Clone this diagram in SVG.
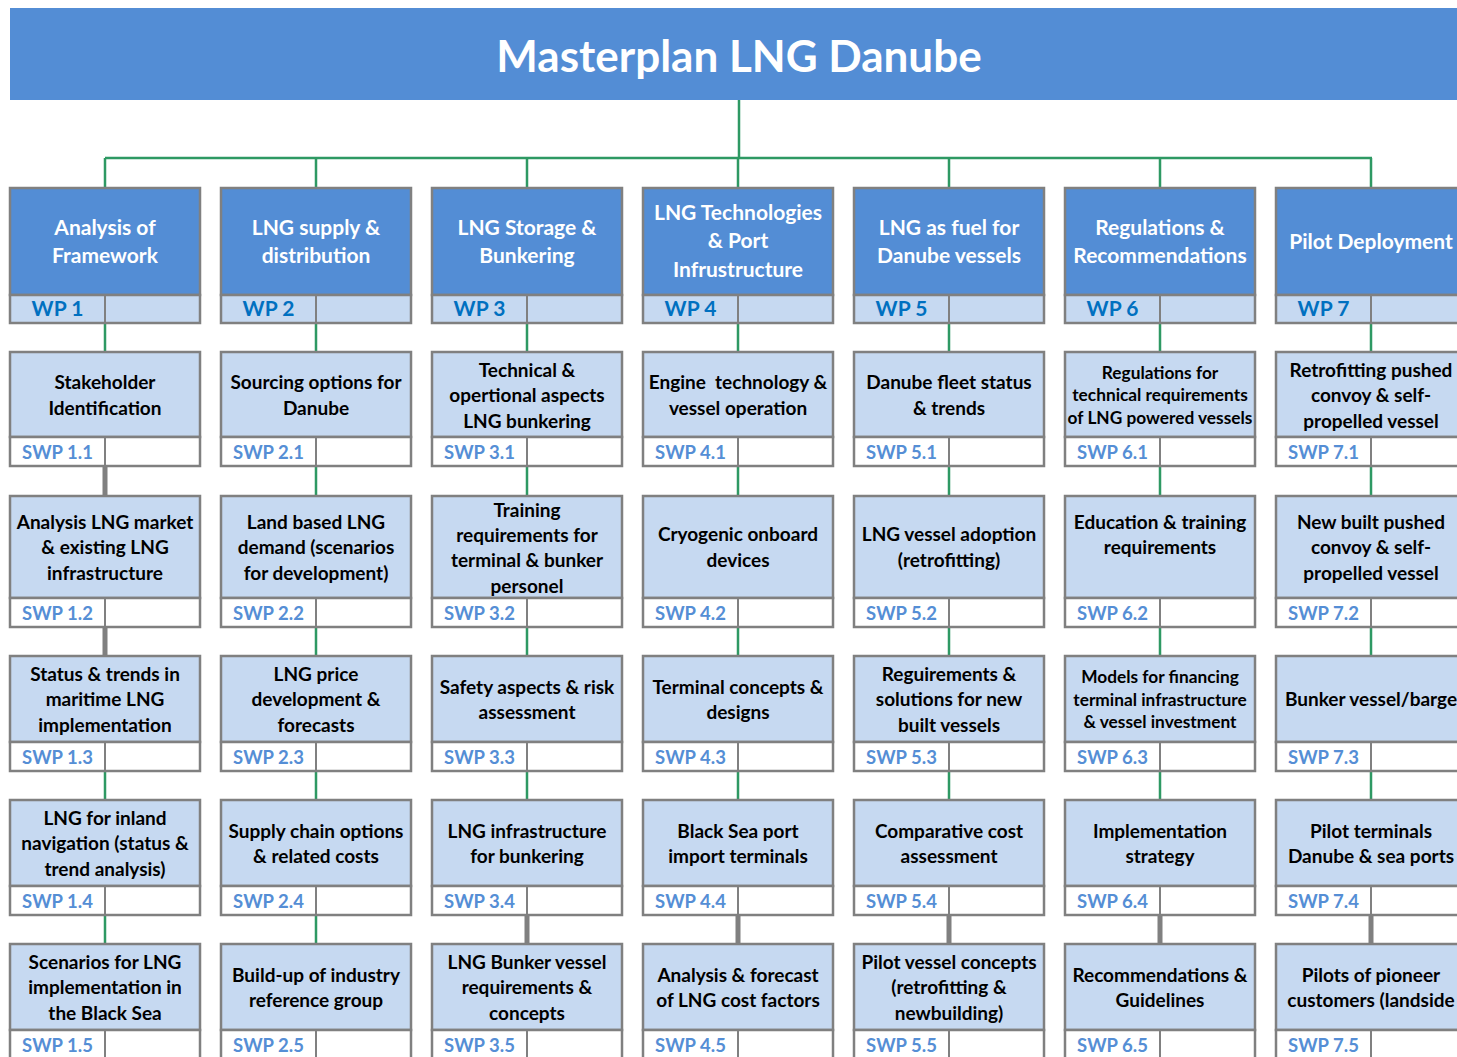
<svg xmlns="http://www.w3.org/2000/svg" width="1457" height="1057" viewBox="0 0 1457 1057">
<style>
text{font-family:Lato,"Open Sans","Liberation Sans",sans-serif;font-weight:bold;text-anchor:middle}
.title{font-size:44px;fill:#fff}
.wpTop{fill:#538DD5;stroke:#808080;stroke-width:2.5}
.wpBot{fill:#C6D9F1;stroke:#808080;stroke-width:2.5}
.sTop{fill:#C6D9F1;stroke:#808080;stroke-width:2.5}
.sBot{fill:#fff;stroke:#808080;stroke-width:2.5}
.div{stroke:#808080;stroke-width:2}
.wpt{font-size:21px;fill:#fff}
.wpl{font-size:21px;fill:#0070C0}
.st{font-size:19px;fill:#000}
.sm{font-size:17.3px;fill:#000}
.sl{font-size:18.5px;fill:#558ED5}
.g{stroke:#2E9963;stroke-width:2.5;fill:none}
.k{stroke:#808080;stroke-width:5;fill:none}
</style>
<rect id="titlebar" x="10" y="8" width="1460" height="92" fill="#538DD5"/>
<text class="title" x="739" y="72">Masterplan LNG Danube</text>

<g id="connectors">
<path class="g" d="M739 100V158M105 158H1372M105 158V188M316 158V188M527 158V188M738 158V188M949 158V188M1160 158V188M1371 158V188"/>
<path class="g" d="M105 323V352M316 323V352M527 323V352M738 323V352M949 323V352M1160 323V352M1371 323V352"/>
<path class="k" d="M105 466V496M105 627V656"/>
<path class="g" d="M316 466V496M527 466V496M738 466V496M949 466V496M1160 466V496M1371 466V496"/>
<path class="g" d="M316 627V656M527 627V656M738 627V656M949 627V656M1160 627V656M1371 627V656"/>
<path class="g" d="M105 771V800M316 771V800M527 771V800M738 771V800M949 771V800M1160 771V800M1371 771V800"/>
<path class="g" d="M105 915V944M316 915V944"/>
<path class="k" d="M527 915V944M738 915V944M949 915V944M1160 915V944M1371 915V944"/>
</g>

<!-- WP nodes -->
<g id="wp1"><rect class="wpTop" x="10" y="188" width="190" height="107"/><rect class="wpBot" x="10" y="295" width="190" height="28"/><line class="div" x1="105" y1="295" x2="105" y2="323"/>
<text class="wpt" x="105" y="235">Analysis of</text><text class="wpt" x="105" y="263">Framework</text><text class="wpl" x="57.5" y="316">WP 1</text></g>
<g id="wp2"><rect class="wpTop" x="221" y="188" width="190" height="107"/><rect class="wpBot" x="221" y="295" width="190" height="28"/><line class="div" x1="316" y1="295" x2="316" y2="323"/>
<text class="wpt" x="316" y="235">LNG supply &amp;</text><text class="wpt" x="316" y="263">distribution</text><text class="wpl" x="268.5" y="316">WP 2</text></g>
<g id="wp3"><rect class="wpTop" x="432" y="188" width="190" height="107"/><rect class="wpBot" x="432" y="295" width="190" height="28"/><line class="div" x1="527" y1="295" x2="527" y2="323"/>
<text class="wpt" x="527" y="235">LNG Storage &amp;</text><text class="wpt" x="527" y="263">Bunkering</text><text class="wpl" x="479.5" y="316">WP 3</text></g>
<g id="wp4"><rect class="wpTop" x="643" y="188" width="190" height="107"/><rect class="wpBot" x="643" y="295" width="190" height="28"/><line class="div" x1="738" y1="295" x2="738" y2="323"/>
<text class="wpt" x="738" y="220">LNG Technologies</text><text class="wpt" x="738" y="248">&amp; Port</text><text class="wpt" x="738" y="277">Infrustructure</text><text class="wpl" x="690.5" y="316">WP 4</text></g>
<g id="wp5"><rect class="wpTop" x="854" y="188" width="190" height="107"/><rect class="wpBot" x="854" y="295" width="190" height="28"/><line class="div" x1="949" y1="295" x2="949" y2="323"/>
<text class="wpt" x="949" y="235">LNG as fuel for</text><text class="wpt" x="949" y="263">Danube vessels</text><text class="wpl" x="901.5" y="316">WP 5</text></g>
<g id="wp6"><rect class="wpTop" x="1065" y="188" width="190" height="107"/><rect class="wpBot" x="1065" y="295" width="190" height="28"/><line class="div" x1="1160" y1="295" x2="1160" y2="323"/>
<text class="wpt" x="1160" y="235">Regulations &amp;</text><text class="wpt" x="1160" y="263">Recommendations</text><text class="wpl" x="1112.5" y="316">WP 6</text></g>
<g id="wp7"><rect class="wpTop" x="1276" y="188" width="190" height="107"/><rect class="wpBot" x="1276" y="295" width="190" height="28"/><line class="div" x1="1371" y1="295" x2="1371" y2="323"/>
<text class="wpt" x="1371" y="249">Pilot Deployment</text><text class="wpl" x="1323.5" y="316">WP 7</text></g>

<!-- Row 1 -->
<g id="swp11"><rect class="sTop" x="10" y="352" width="190" height="85"/><rect class="sBot" x="10" y="437" width="190" height="29"/><line class="div" x1="105" y1="437" x2="105" y2="466"/>
<text class="st" x="105" y="389">Stakeholder</text><text class="st" x="105" y="415">Identification</text><text class="sl" x="57.5" y="459">SWP 1.1</text></g>
<g id="swp21"><rect class="sTop" x="221" y="352" width="190" height="85"/><rect class="sBot" x="221" y="437" width="190" height="29"/><line class="div" x1="316" y1="437" x2="316" y2="466"/>
<text class="st" x="316" y="389">Sourcing options for</text><text class="st" x="316" y="415">Danube</text><text class="sl" x="268.5" y="459">SWP 2.1</text></g>
<g id="swp31"><rect class="sTop" x="432" y="352" width="190" height="85"/><rect class="sBot" x="432" y="437" width="190" height="29"/><line class="div" x1="527" y1="437" x2="527" y2="466"/>
<text class="st" x="527" y="377">Technical &amp;</text><text class="st" x="527" y="402">opertional aspects</text><text class="st" x="527" y="428">LNG bunkering</text><text class="sl" x="479.5" y="459">SWP 3.1</text></g>
<g id="swp41"><rect class="sTop" x="643" y="352" width="190" height="85"/><rect class="sBot" x="643" y="437" width="190" height="29"/><line class="div" x1="738" y1="437" x2="738" y2="466"/>
<text class="st" x="738" y="389" xml:space="preserve">Engine  technology &amp;</text><text class="st" x="738" y="415">vessel operation</text><text class="sl" x="690.5" y="459">SWP 4.1</text></g>
<g id="swp51"><rect class="sTop" x="854" y="352" width="190" height="85"/><rect class="sBot" x="854" y="437" width="190" height="29"/><line class="div" x1="949" y1="437" x2="949" y2="466"/>
<text class="st" x="949" y="389">Danube fleet status</text><text class="st" x="949" y="415">&amp; trends</text><text class="sl" x="901.5" y="459">SWP 5.1</text></g>
<g id="swp61"><rect class="sTop" x="1065" y="352" width="190" height="85"/><rect class="sBot" x="1065" y="437" width="190" height="29"/><line class="div" x1="1160" y1="437" x2="1160" y2="466"/>
<text class="sm" x="1160" y="379">Regulations for</text><text class="sm" x="1160" y="401">technical requirements</text><text class="sm" x="1160" y="424">of LNG powered vessels</text><text class="sl" x="1112.5" y="459">SWP 6.1</text></g>
<g id="swp71"><rect class="sTop" x="1276" y="352" width="190" height="85"/><rect class="sBot" x="1276" y="437" width="190" height="29"/><line class="div" x1="1371" y1="437" x2="1371" y2="466"/>
<text class="st" x="1371" y="377">Retrofitting pushed</text><text class="st" x="1371" y="402">convoy &amp; self-</text><text class="st" x="1371" y="428">propelled vessel</text><text class="sl" x="1323.5" y="459">SWP 7.1</text></g>

<!-- Row 2 -->
<g id="swp12"><rect class="sTop" x="10" y="496" width="190" height="102"/><rect class="sBot" x="10" y="598" width="190" height="29"/><line class="div" x1="105" y1="598" x2="105" y2="627"/>
<text class="st" x="105" y="529">Analysis LNG market</text><text class="st" x="105" y="554">&amp; existing LNG</text><text class="st" x="105" y="580">infrastructure</text><text class="sl" x="57.5" y="620">SWP 1.2</text></g>
<g id="swp22"><rect class="sTop" x="221" y="496" width="190" height="102"/><rect class="sBot" x="221" y="598" width="190" height="29"/><line class="div" x1="316" y1="598" x2="316" y2="627"/>
<text class="st" x="316" y="529">Land based LNG</text><text class="st" x="316" y="554">demand (scenarios</text><text class="st" x="316" y="580">for development)</text><text class="sl" x="268.5" y="620">SWP 2.2</text></g>
<g id="swp32"><rect class="sTop" x="432" y="496" width="190" height="102"/><rect class="sBot" x="432" y="598" width="190" height="29"/><line class="div" x1="527" y1="598" x2="527" y2="627"/>
<text class="st" x="527" y="517">Training</text><text class="st" x="527" y="542">requirements for</text><text class="st" x="527" y="567">terminal &amp; bunker</text><text class="st" x="527" y="593">personel</text><text class="sl" x="479.5" y="620">SWP 3.2</text></g>
<g id="swp42"><rect class="sTop" x="643" y="496" width="190" height="102"/><rect class="sBot" x="643" y="598" width="190" height="29"/><line class="div" x1="738" y1="598" x2="738" y2="627"/>
<text class="st" x="738" y="541">Cryogenic onboard</text><text class="st" x="738" y="567">devices</text><text class="sl" x="690.5" y="620">SWP 4.2</text></g>
<g id="swp52"><rect class="sTop" x="854" y="496" width="190" height="102"/><rect class="sBot" x="854" y="598" width="190" height="29"/><line class="div" x1="949" y1="598" x2="949" y2="627"/>
<text class="st" x="949" y="541">LNG vessel adoption</text><text class="st" x="949" y="567">(retrofitting)</text><text class="sl" x="901.5" y="620">SWP 5.2</text></g>
<g id="swp62"><rect class="sTop" x="1065" y="496" width="190" height="102"/><rect class="sBot" x="1065" y="598" width="190" height="29"/><line class="div" x1="1160" y1="598" x2="1160" y2="627"/>
<text class="st" x="1160" y="529">Education &amp; training</text><text class="st" x="1160" y="554">requirements</text><text class="sl" x="1112.5" y="620">SWP 6.2</text></g>
<g id="swp72"><rect class="sTop" x="1276" y="496" width="190" height="102"/><rect class="sBot" x="1276" y="598" width="190" height="29"/><line class="div" x1="1371" y1="598" x2="1371" y2="627"/>
<text class="st" x="1371" y="529">New built pushed</text><text class="st" x="1371" y="554">convoy &amp; self-</text><text class="st" x="1371" y="580">propelled vessel</text><text class="sl" x="1323.5" y="620">SWP 7.2</text></g>

<!-- Row 3 -->
<g id="swp13"><rect class="sTop" x="10" y="656" width="190" height="86"/><rect class="sBot" x="10" y="742" width="190" height="29"/><line class="div" x1="105" y1="742" x2="105" y2="771"/>
<text class="st" x="105" y="681">Status &amp; trends in</text><text class="st" x="105" y="706">maritime LNG</text><text class="st" x="105" y="732">implementation</text><text class="sl" x="57.5" y="764">SWP 1.3</text></g>
<g id="swp23"><rect class="sTop" x="221" y="656" width="190" height="86"/><rect class="sBot" x="221" y="742" width="190" height="29"/><line class="div" x1="316" y1="742" x2="316" y2="771"/>
<text class="st" x="316" y="681">LNG price</text><text class="st" x="316" y="706">development &amp;</text><text class="st" x="316" y="732">forecasts</text><text class="sl" x="268.5" y="764">SWP 2.3</text></g>
<g id="swp33"><rect class="sTop" x="432" y="656" width="190" height="86"/><rect class="sBot" x="432" y="742" width="190" height="29"/><line class="div" x1="527" y1="742" x2="527" y2="771"/>
<text class="st" x="527" y="694">Safety aspects &amp; risk</text><text class="st" x="527" y="719">assessment</text><text class="sl" x="479.5" y="764">SWP 3.3</text></g>
<g id="swp43"><rect class="sTop" x="643" y="656" width="190" height="86"/><rect class="sBot" x="643" y="742" width="190" height="29"/><line class="div" x1="738" y1="742" x2="738" y2="771"/>
<text class="st" x="738" y="694">Terminal concepts &amp;</text><text class="st" x="738" y="719">designs</text><text class="sl" x="690.5" y="764">SWP 4.3</text></g>
<g id="swp53"><rect class="sTop" x="854" y="656" width="190" height="86"/><rect class="sBot" x="854" y="742" width="190" height="29"/><line class="div" x1="949" y1="742" x2="949" y2="771"/>
<text class="st" x="949" y="681">Reguirements &amp;</text><text class="st" x="949" y="706">solutions for new</text><text class="st" x="949" y="732">built vessels</text><text class="sl" x="901.5" y="764">SWP 5.3</text></g>
<g id="swp63"><rect class="sTop" x="1065" y="656" width="190" height="86"/><rect class="sBot" x="1065" y="742" width="190" height="29"/><line class="div" x1="1160" y1="742" x2="1160" y2="771"/>
<text class="sm" x="1160" y="683">Models for financing</text><text class="sm" x="1160" y="706">terminal infrastructure</text><text class="sm" x="1160" y="728">&amp; vessel investment</text><text class="sl" x="1112.5" y="764">SWP 6.3</text></g>
<g id="swp73"><rect class="sTop" x="1276" y="656" width="190" height="86"/><rect class="sBot" x="1276" y="742" width="190" height="29"/><line class="div" x1="1371" y1="742" x2="1371" y2="771"/>
<text class="st" x="1371" y="706">Bunker vessel/barge</text><text class="sl" x="1323.5" y="764">SWP 7.3</text></g>

<!-- Row 4 -->
<g id="swp14"><rect class="sTop" x="10" y="800" width="190" height="86"/><rect class="sBot" x="10" y="886" width="190" height="29"/><line class="div" x1="105" y1="886" x2="105" y2="915"/>
<text class="st" x="105" y="825">LNG for inland</text><text class="st" x="105" y="850">navigation (status &amp;</text><text class="st" x="105" y="876">trend analysis)</text><text class="sl" x="57.5" y="908">SWP 1.4</text></g>
<g id="swp24"><rect class="sTop" x="221" y="800" width="190" height="86"/><rect class="sBot" x="221" y="886" width="190" height="29"/><line class="div" x1="316" y1="886" x2="316" y2="915"/>
<text class="st" x="316" y="838">Supply chain options</text><text class="st" x="316" y="863">&amp; related costs</text><text class="sl" x="268.5" y="908">SWP 2.4</text></g>
<g id="swp34"><rect class="sTop" x="432" y="800" width="190" height="86"/><rect class="sBot" x="432" y="886" width="190" height="29"/><line class="div" x1="527" y1="886" x2="527" y2="915"/>
<text class="st" x="527" y="838">LNG infrastructure</text><text class="st" x="527" y="863">for bunkering</text><text class="sl" x="479.5" y="908">SWP 3.4</text></g>
<g id="swp44"><rect class="sTop" x="643" y="800" width="190" height="86"/><rect class="sBot" x="643" y="886" width="190" height="29"/><line class="div" x1="738" y1="886" x2="738" y2="915"/>
<text class="st" x="738" y="838">Black Sea port</text><text class="st" x="738" y="863">import terminals</text><text class="sl" x="690.5" y="908">SWP 4.4</text></g>
<g id="swp54"><rect class="sTop" x="854" y="800" width="190" height="86"/><rect class="sBot" x="854" y="886" width="190" height="29"/><line class="div" x1="949" y1="886" x2="949" y2="915"/>
<text class="st" x="949" y="838">Comparative cost</text><text class="st" x="949" y="863">assessment</text><text class="sl" x="901.5" y="908">SWP 5.4</text></g>
<g id="swp64"><rect class="sTop" x="1065" y="800" width="190" height="86"/><rect class="sBot" x="1065" y="886" width="190" height="29"/><line class="div" x1="1160" y1="886" x2="1160" y2="915"/>
<text class="st" x="1160" y="838">Implementation</text><text class="st" x="1160" y="863">strategy</text><text class="sl" x="1112.5" y="908">SWP 6.4</text></g>
<g id="swp74"><rect class="sTop" x="1276" y="800" width="190" height="86"/><rect class="sBot" x="1276" y="886" width="190" height="29"/><line class="div" x1="1371" y1="886" x2="1371" y2="915"/>
<text class="st" x="1371" y="838">Pilot terminals</text><text class="st" x="1371" y="863">Danube &amp; sea ports</text><text class="sl" x="1323.5" y="908">SWP 7.4</text></g>

<!-- Row 5 -->
<g id="swp15"><rect class="sTop" x="10" y="944" width="190" height="86"/><rect class="sBot" x="10" y="1030" width="190" height="29"/><line class="div" x1="105" y1="1030" x2="105" y2="1059"/>
<text class="st" x="105" y="969">Scenarios for LNG</text><text class="st" x="105" y="994">implementation in</text><text class="st" x="105" y="1020">the Black Sea</text><text class="sl" x="57.5" y="1052">SWP 1.5</text></g>
<g id="swp25"><rect class="sTop" x="221" y="944" width="190" height="86"/><rect class="sBot" x="221" y="1030" width="190" height="29"/><line class="div" x1="316" y1="1030" x2="316" y2="1059"/>
<text class="st" x="316" y="982">Build-up of industry</text><text class="st" x="316" y="1007">reference group</text><text class="sl" x="268.5" y="1052">SWP 2.5</text></g>
<g id="swp35"><rect class="sTop" x="432" y="944" width="190" height="86"/><rect class="sBot" x="432" y="1030" width="190" height="29"/><line class="div" x1="527" y1="1030" x2="527" y2="1059"/>
<text class="st" x="527" y="969">LNG Bunker vessel</text><text class="st" x="527" y="994">requirements &amp;</text><text class="st" x="527" y="1020">concepts</text><text class="sl" x="479.5" y="1052">SWP 3.5</text></g>
<g id="swp45"><rect class="sTop" x="643" y="944" width="190" height="86"/><rect class="sBot" x="643" y="1030" width="190" height="29"/><line class="div" x1="738" y1="1030" x2="738" y2="1059"/>
<text class="st" x="738" y="982">Analysis &amp; forecast</text><text class="st" x="738" y="1007">of LNG cost factors</text><text class="sl" x="690.5" y="1052">SWP 4.5</text></g>
<g id="swp55"><rect class="sTop" x="854" y="944" width="190" height="86"/><rect class="sBot" x="854" y="1030" width="190" height="29"/><line class="div" x1="949" y1="1030" x2="949" y2="1059"/>
<text class="st" x="949" y="969">Pilot vessel concepts</text><text class="st" x="949" y="994">(retrofitting &amp;</text><text class="st" x="949" y="1020">newbuilding)</text><text class="sl" x="901.5" y="1052">SWP 5.5</text></g>
<g id="swp65"><rect class="sTop" x="1065" y="944" width="190" height="86"/><rect class="sBot" x="1065" y="1030" width="190" height="29"/><line class="div" x1="1160" y1="1030" x2="1160" y2="1059"/>
<text class="st" x="1160" y="982">Recommendations &amp;</text><text class="st" x="1160" y="1007">Guidelines</text><text class="sl" x="1112.5" y="1052">SWP 6.5</text></g>
<g id="swp75"><rect class="sTop" x="1276" y="944" width="190" height="86"/><rect class="sBot" x="1276" y="1030" width="190" height="29"/><line class="div" x1="1371" y1="1030" x2="1371" y2="1059"/>
<text class="st" x="1371" y="982">Pilots of pioneer</text><text class="st" x="1371" y="1007">customers (landside</text><text class="sl" x="1323.5" y="1052">SWP 7.5</text></g>
</svg>
